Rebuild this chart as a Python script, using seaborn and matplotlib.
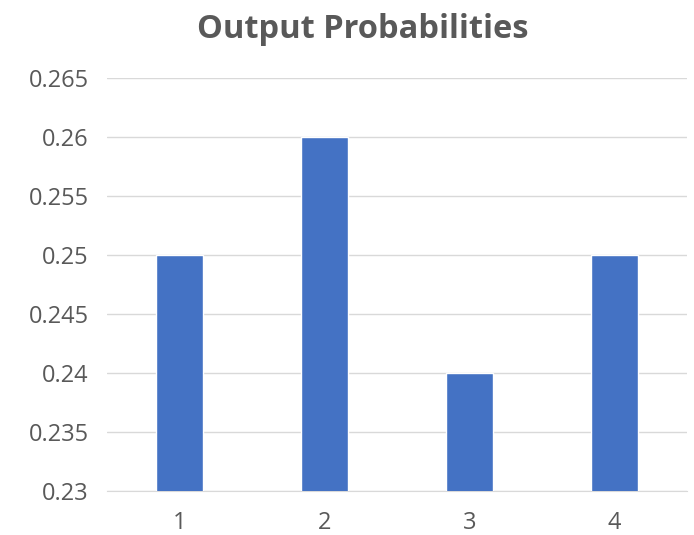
import matplotlib
matplotlib.use("Agg")
import matplotlib.pyplot as plt
import seaborn as sns
import pandas as pd

# データ
outputs = ["1", "2", "3", "4"]
probabilities = [0.25, 0.26, 0.24, 0.25]
y_ticks = [0.23, 0.235, 0.24, 0.245, 0.25, 0.255, 0.26, 0.265]

sns.set_style("white")
plt.rcParams['font.family'] = ['Open Sans', 'DejaVu Sans']

df = pd.DataFrame({"output": outputs, "prob": probabilities})

fig = plt.figure(figsize=(6.94, 5.35), dpi=100)
ax = fig.add_axes([0.154, 0.082, 0.836, 0.772])
sns.barplot(data=df, x="output", y="prob", color="#4472C4", saturation=1,
            width=0.32, ax=ax, zorder=3)

ax.set_ylim(0.23, 0.265)
ax.set_yticks(y_ticks)
ax.set_yticklabels([f"{v:g}" for v in y_ticks])
ax.set_xlim(-0.5, 3.5)
ax.grid(axis="y", color="#D9D9D9", linewidth=1, zorder=0)
for s in ["top", "right", "left"]:
    ax.spines[s].set_visible(False)
ax.spines["bottom"].set_color("#D9D9D9")
ax.tick_params(length=0, labelsize=17, colors="#595959")
ax.tick_params(axis="y", pad=13)
ax.tick_params(axis="x", pad=14)
ax.set_xlabel("")
ax.set_ylabel("")
fig.suptitle("Output Probabilities", fontsize=23.5, fontweight="bold",
             color="#595959", x=0.522, y=0.975)

fig.savefig("out.png", dpi=100)
